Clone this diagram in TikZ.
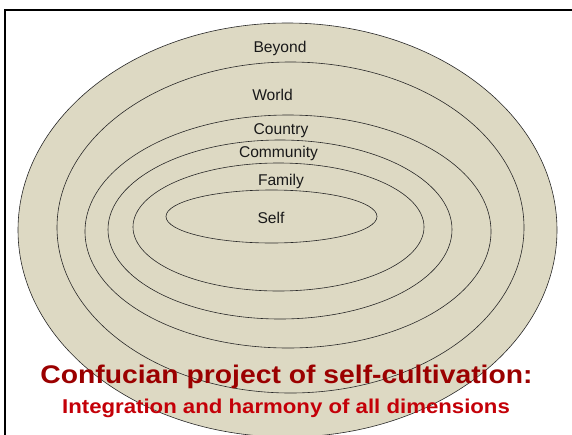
\documentclass[tikz,border=0pt]{standalone}
\usepackage{fontspec}
\setmainfont{Liberation Sans}
\definecolor{sand}{RGB}{221,217,195}
\definecolor{ringline}{RGB}{40,40,40}
\definecolor{titlered}{RGB}{155,0,0}
\definecolor{subred}{RGB}{196,0,8}
\tikzset{
  ring/.style={fill=sand, draw=ringline, line width=0.6pt},
  ringlabel/.style={anchor=base, inner sep=0pt, font=\fontsize{15.6}{18}\selectfont, text=black!90},
  titleline/.style={anchor=base, inner sep=0pt, font=\bfseries\fontsize{25.5}{30}\selectfont, text=titlered},
  subline/.style={anchor=base, inner sep=0pt, font=\bfseries\fontsize{20}{24}\selectfont, text=subred},
}
\begin{document}
\begin{tikzpicture}[x=1pt, y=-1pt]
  \useasboundingbox (0,0) rectangle (572,434);
  \clip (0,0) rectangle (572,434);
  \fill[white] (0,0) rectangle (572,434);

  % slide frame, running off the right and bottom edges
  \draw[black, line width=2pt] (5,10) rectangle (640,500);

  % nested circles of self-cultivation, outermost first
  \draw[ring] (287.5,230)   ellipse [x radius=269.5pt, y radius=207pt];
  \draw[ring] (290.5,227.5) ellipse [x radius=233.5pt, y radius=165.5pt];
  \draw[ring] (288,231.5)   ellipse [x radius=203pt,   y radius=116.5pt];
  \draw[ring] (280,229.5)   ellipse [x radius=172pt,   y radius=89.5pt];
  \draw[ring] (278.5,227)   ellipse [x radius=145.5pt, y radius=64pt];
  \draw[ring] (271.5,216.5) ellipse [x radius=105.5pt, y radius=26.5pt];

  % ring labels
  \node[ringlabel] (beyond)    at (280,52)    {Beyond};
  \node[ringlabel] (world)     at (272.5,100) {World};
  \node[ringlabel] (country)   at (281,134)   {Country};
  \node[ringlabel] (community) at (278.5,157) {Community};
  \node[ringlabel] (family)    at (281,185)   {Family};
  \node[ringlabel] (self)      at (271,223)   {Self};

  % caption
  \node[titleline] (title) at (286.5,383)
    {\scalebox{1.11}[1]{Confucian project of self-cultivation:}};
  \node[subline] (subtitle) at (286,413)
    {\scalebox{1.11}[1]{Integration and harmony of all dimensions}};
\end{tikzpicture}
\end{document}
